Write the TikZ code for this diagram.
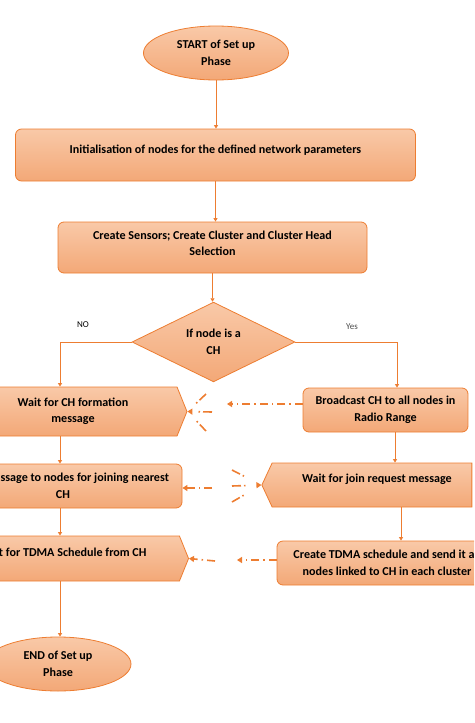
\documentclass[tikz,border=0pt]{standalone}
\usepackage{fontspec}
\setmainfont{Carlito}
\usetikzlibrary{shapes.geometric,shapes.symbols,arrows.meta}
\definecolor{oline}{HTML}{ED7D31}
\definecolor{ftop}{HTML}{F9C9A8}
\definecolor{fbot}{HTML}{F3A877}
\begin{document}
\begin{tikzpicture}[x=1pt,y=-1pt,
  txt/.style={font=\bfseries\fontsize{12.1}{16.5}\selectfont, align=center, text=black},
  fillc/.style={draw=oline, line width=0.8pt, top color=ftop, bottom color=fbot, inner sep=0pt},
  box/.style={fillc, txt, rounded corners=6pt},
  term/.style={fillc, txt, ellipse},
  sigr/.style={fillc, txt, signal, signal to=east, signal from=nowhere, signal pointer angle=136},
  sigl/.style={fillc, txt, signal, signal to=west, signal from=nowhere, signal pointer angle=130},
  lbl/.style={txt},
  conn/.style={draw=oline, line width=0.9pt, -{Triangle[width=4pt,length=3.5pt]}},
  msg/.style={draw=oline, line width=1.6pt, dash pattern=on 8pt off 4pt on 1.5pt off 4pt, -{Triangle[width=6pt,length=5pt]}},
  burst/.style={draw=oline, line width=1.6pt, dash pattern=on 9pt off 3pt on 1.5pt off 40pt},
  small/.style={font=\fontsize{9}{10}\selectfont}
]
\useasboundingbox (0,0) rectangle (474,723);
\clip (0,0) rectangle (474,723);

% main column
\node[term, minimum width=145pt, minimum height=54pt] (start) at (216,53) {START of Set up\\Phase};
\node[box, minimum width=400pt, minimum height=52pt,
  label={[lbl, yshift=5pt]center:Initialisation of nodes for the defined network parameters}] (init) at (215.5,155) {};
\node[box, minimum width=309pt, minimum height=51pt,
  label={[lbl, yshift=4pt]center:{Create Sensors; Create Cluster and Cluster Head\\Selection}}] (create) at (212.5,247.5) {};
\node[fillc, txt, diamond, minimum width=163pt, minimum height=75pt] (dec) at (213.5,342) {If node is a\\CH};

\node[small] (no) at (83,325) {NO};
\node[small, text=black!70] (yes) at (352,327) {Yes};

% left column
\node[sigr, minimum width=244pt, minimum height=49pt,
  label={[lbl, xshift=13pt]center:{Wait for CH formation\\message}}] (waitch) at (60,411.5) {};
\node[box, minimum width=244pt, minimum height=44pt,
  label={[lbl, xshift=3pt]center:{Send message to nodes for joining nearest\\CH}}] (sendm) at (60,486) {};
\node[sigr, minimum width=248pt, minimum height=45pt,
  label={[lbl, xshift=3pt, yshift=6pt]center:Wait for TDMA Schedule from CH}] (tdma) at (60,558.5) {};
\node[term, minimum width=146pt, minimum height=54pt] (end) at (58,664) {END of Set up\\Phase};

% right column
\node[box, minimum width=165pt, minimum height=44pt] (bc) at (385.5,410) {Broadcast CH to all nodes in\\Radio Range};
\node[sigl, minimum width=210pt, minimum height=44pt,
  label={[lbl, xshift=5pt, yshift=6pt]center:Wait for join request message}] (wj) at (372,485) {};
\node[box, minimum width=220pt, minimum height=44pt] (ct) at (387,563) {Create TDMA schedule and send it all\\nodes linked to CH in each cluster};

% column coordinates
\coordinate (rx1) at (397,0);
\coordinate (rx2) at (395,0);
\coordinate (rx3) at (401,0);

% flow connectors
\draw[conn] (start.south) -- (start.south |- init.north);
\draw[conn] (init.south) -- (init.south |- create.north);
\draw[conn] (create.south) -- (create.south |- dec.north);
\draw[conn] (dec.west) -| (waitch.north);
\draw[conn] (dec.east) -| (rx1 |- bc.north);
\draw[conn] (waitch.south) -- (sendm.north);
\draw[conn] (sendm.south) -- (tdma.north);
\draw[conn] (tdma.south) -- (tdma.south |- end.north);
\draw[conn] (rx2 |- bc.south) -- (rx2 |- wj.north);
\draw[conn] (rx3 |- wj.south) -- (rx3 |- ct.north);

% message row 1
\coordinate (m1) at (227,404);
\draw[msg] (bc.west |- m1) -- (m1);
\coordinate (b1a) at (206,394);
\coordinate (b1b) at (212,412);
\coordinate (b1c) at (206,431);
\draw[burst] (b1a) -- (waitch.east);
\draw[burst, -{Triangle[width=6pt,length=5pt]}] (b1b) -- (waitch.east);
\draw[burst] (b1c) -- (waitch.east);

% message row 2
\coordinate (b2a) at (232,470);
\coordinate (b2b) at (232,486);
\coordinate (b2c) at (232,502);
\draw[burst] (b2a) -- (wj.west);
\draw[burst, -{Triangle[width=6pt,length=5pt]}] (b2b) -- (wj.west);
\draw[burst] (b2c) -- (wj.west);
\coordinate (m2) at (212,488);
\draw[msg] (m2) -- (sendm.east |- m2);

% message row 3
\coordinate (m3a) at (237,560);
\draw[msg] (ct.west |- m3a) -- (m3a);
\coordinate (m3b) at (215,561);
\draw[msg] (m3b) -- (tdma.east);
\end{tikzpicture}
\end{document}
